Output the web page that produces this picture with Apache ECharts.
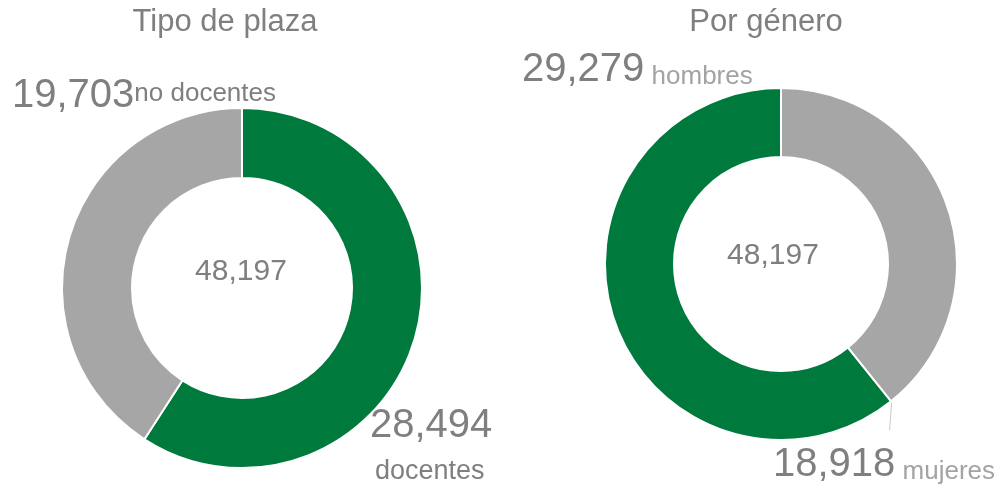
<!DOCTYPE html>
<html>
<head>
<meta charset="utf-8">
<script src="https://cdn.jsdelivr.net/npm/echarts@6/dist/echarts.min.js"></script>
<style>
  html, body { margin: 0; padding: 0; background: #fff; }
  #chart { width: 1005px; height: 489px; }
</style>
</head>
<body>
<div id="chart"></div>
<script>
// datos
var titulos = ['Tipo de plaza', 'Por género'];
var plazaNombres = ['docentes', 'no docentes'];
var plazaValores = [28494, 19703];
var generoNombres = ['mujeres', 'hombres'];
var generoValores = [18918, 29279];

var VERDE = '#007a3c';
var GRIS = '#a6a6a6';
var TEXTO = '#7f7f7f';
var TEXTO_CLARO = '#a3a3a3';
var FUENTE = "'Liberation Sans', Arial, sans-serif";

function fmt(n) { return n.toLocaleString('en-US'); }
function suma(arr) { return arr.reduce(function (a, b) { return a + b; }, 0); }

// geometria de cada dona
var donas = [
  { center: [242, 288], radius: [110, 180] },
  { center: [781, 264], radius: [107, 176] }
];

// posiciones de etiquetas [serie][dato]
var etiquetas = [
  [ { x: 370, y: 403, align: 'left', verticalAlign: 'top' },
    { x: 12, y: 94, align: 'left', verticalAlign: 'middle' } ],
  [ { x: 773, y: 463, align: 'left', verticalAlign: 'middle' },
    { x: 522, y: 68, align: 'left', verticalAlign: 'middle' } ]
];

var chart = echarts.init(document.getElementById('chart'));

function serie(idx, nombres, valores, colores, formatter, rich) {
  return {
    type: 'pie',
    center: donas[idx].center,
    radius: donas[idx].radius,
    startAngle: 90,
    clockwise: true,
    avoidLabelOverlap: false,
    silent: true,
    itemStyle: { borderColor: '#fff', borderWidth: 2 },
    label: {
      show: true,
      position: 'outside',
      formatter: formatter,
      rich: rich
    },
    labelLine: { show: false },
    labelLayout: function (params) {
      var e = etiquetas[params.seriesIndex][params.dataIndex];
      return { x: e.x, y: e.y, align: e.align, verticalAlign: e.verticalAlign };
    },
    data: nombres.map(function (n, i) {
      return { name: n, value: valores[i], itemStyle: { color: colores[i] } };
    })
  };
}

var rich = {
  v: { fontFamily: FUENTE, fontSize: 40, color: TEXTO, verticalAlign: 'bottom', lineHeight: 44 },
  n: { fontFamily: FUENTE, fontSize: 26, color: TEXTO, lineHeight: 34 },
  c: { fontFamily: FUENTE, fontSize: 26, color: TEXTO_CLARO, verticalAlign: 'bottom', lineHeight: 34 },
  vd: { fontFamily: FUENTE, fontSize: 40, color: TEXTO, lineHeight: 46 },
  dd: { fontFamily: FUENTE, fontSize: 27, color: TEXTO, lineHeight: 46, padding: [0, 0, 0, 5] }
};

var total1 = suma(plazaValores);
var total2 = suma(generoValores);

// linea guia de "mujeres": desde el borde entre rebanadas
var ang = (90 - 360 * generoValores[0] / total2) * Math.PI / 180;
var px = donas[1].center[0] + (donas[1].radius[1] + 1) * Math.cos(ang);
var py = donas[1].center[1] - (donas[1].radius[1] + 1) * Math.sin(ang);

function titulo(texto, x, y, size) {
  return { text: texto, left: x, top: y, padding: 0, textAlign: 'center', textVerticalAlign: 'middle',
    textStyle: { fontFamily: FUENTE, fontSize: size, fontWeight: 'normal', color: TEXTO } };
}

var option = {
  backgroundColor: '#fff',
  animation: false,
  title: [
    titulo(titulos[0], 225, 22, 31),
    titulo(titulos[1], 766, 22, 31),
    titulo(fmt(total1), 241, 272, 30),
    titulo(fmt(total2), 773, 256, 30)
  ],
  graphic: [
    { type: 'line', silent: true,
      shape: { x1: px, y1: py, x2: px - 2, y2: py + 28 },
      style: { stroke: '#c8c8c8', lineWidth: 1 } }
  ],
  series: [
    serie(0, plazaNombres, plazaValores, [VERDE, GRIS], function (p) {
      if (p.dataIndex === 0) return '{vd|' + fmt(p.value) + '}\n{dd|' + p.name + '}';
      return '{v|' + fmt(p.value) + '}{n|' + p.name + '}';
    }, rich),
    serie(1, generoNombres, generoValores, [GRIS, VERDE], function (p) {
      return '{v|' + fmt(p.value) + '}{c| ' + p.name + '}';
    }, rich)
  ]
};

chart.setOption(option);
</script>
</body>
</html>
